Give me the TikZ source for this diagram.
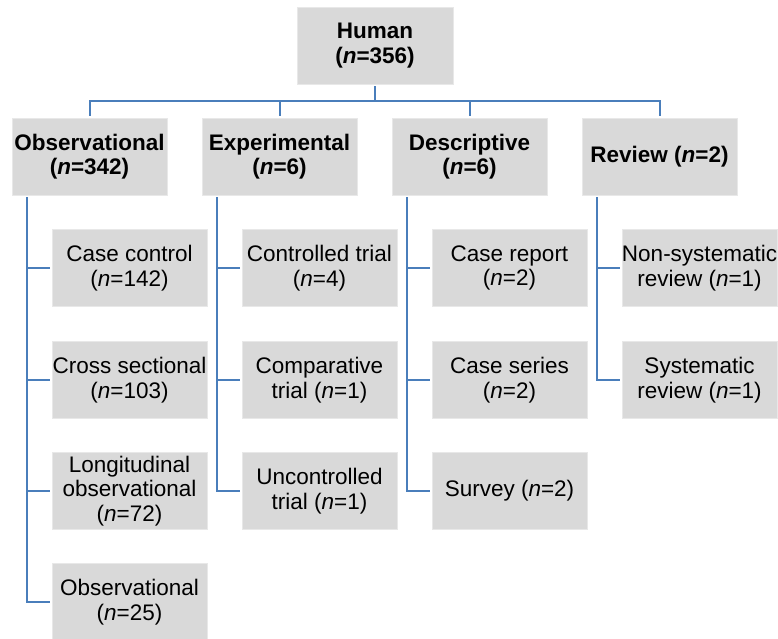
\documentclass[tikz,border=0pt]{standalone}
\usepackage{fontspec}
\setmainfont{Liberation Sans}
\usepackage{tikz}
\usetikzlibrary{positioning}
\usetikzlibrary{arrows,shapes}
\definecolor{boxgray}{RGB}{217,217,217}
\definecolor{boxedge}{RGB}{232,232,232}
\definecolor{linkblue}{RGB}{74,126,187}
\tikzstyle{box}=[rectangle,fill=boxgray,draw=boxedge,line width=0.8pt,minimum width=155pt,minimum height=77pt,inner sep=0pt,align=center,font=\fontsize{22.5}{24.5}\selectfont]
\tikzstyle{headbox}=[box,font=\fontsize{22.5}{24.5}\selectfont\bfseries]
\tikzstyle{link}=[linkblue,line width=2pt,shorten <=2pt,shorten >=2pt]

\begin{document}
\begin{tikzpicture}[x=1pt,y=-1pt]
\useasboundingbox (0,0) rectangle (778,638);

\node[headbox,minimum width=156pt] (human) at (375,45.5) {Human\\(\textit{n}=356)};

    \foreach \pos/\name/\lbl in {{(89.5,156.5)/obs/{Observational\\(\textit{n}=342)}}, {(279.5,156.5)/exp/{Experimental\\(\textit{n}=6)}}, {(469.5,156.5)/desc/{Descriptive\\(\textit{n}=6)}}, {(659.5,156.5)/rev/{Review (\textit{n}=2)}}}
        \node[headbox] (\name) at \pos {\lbl};

    \foreach \pos/\name/\lbl in {{(129.5,268.2)/cc/{Case control\\(\textit{n}=142)}}, {(129.5,380)/cs/{Cross sectional\\(\textit{n}=103)}}, {(129.5,491)/lo/{Longitudinal\\observational\\(\textit{n}=72)}}, {(129.5,602.3)/ob/{Observational\\(\textit{n}=25)}},
        {(319.5,268.2)/ct/{Controlled trial\\(\textit{n}=4)}}, {(319.5,380)/cp/{Comparative\\trial (\textit{n}=1)}}, {(319.5,491)/uc/{Uncontrolled\\trial (\textit{n}=1)}},
        {(509.5,268.2)/cr/{Case report\\(\textit{n}=2)}}, {(509.5,380)/cse/{Case series\\(\textit{n}=2)}}, {(509.5,491)/sv/{Survey (\textit{n}=2)}},
        {(699.5,268.2)/ns/{Non-systematic\\review (\textit{n}=1)}}, {(699.5,380)/sr/{Systematic\\review (\textit{n}=1)}}}
        \node[box] (\name) at \pos {\lbl};

%top level bus
    \foreach \dest in {obs, exp, desc, rev}
        \draw[link] (human.south) -- ++(0,17) -| (\dest.north);

%branches
    \foreach \source/\dest in {obs/cc, obs/cs, obs/lo, obs/ob, exp/ct, exp/cp, exp/uc, desc/cr, desc/cse, desc/sv, rev/ns, rev/sr}
        \draw[link] (\source.south west) ++(15,0) |- (\dest.west);

\end{tikzpicture}
\end{document}
